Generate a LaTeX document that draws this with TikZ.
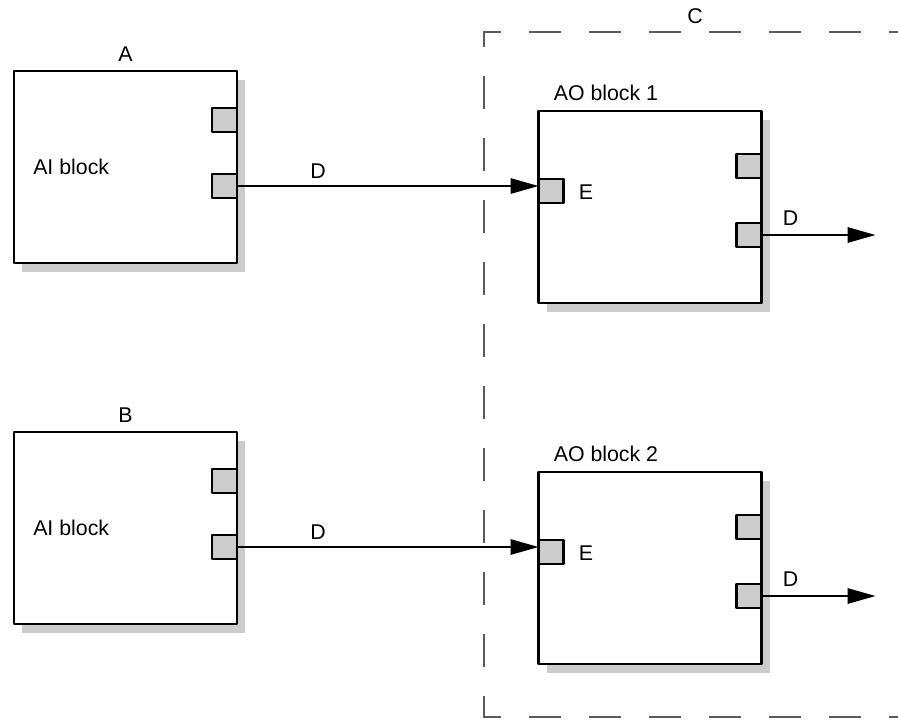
\documentclass[tikz,border=0pt]{standalone}
\usepackage{fontspec}
\setmainfont{Liberation Sans}
\usetikzlibrary{arrows.meta,calc,shadows}
\definecolor{portgray}{HTML}{CCCCCC}
\definecolor{shadegray}{HTML}{CCCCCC}
\definecolor{framegray}{HTML}{5A5A5A}
\tikzset{
  block/.style={draw, line width=1.8pt, fill=white, minimum width=167.25pt, minimum height=144pt,
    inner sep=0pt, outer sep=0pt, general shadow={fill=shadegray, shadow xshift=6pt, shadow yshift=-6.75pt}},
  port/.style={draw, line width=1.6pt, fill=portgray, minimum width=18.75pt, minimum height=18pt,
    inner sep=0pt, outer sep=0pt},
  lbl/.style={inner sep=0pt, font=\fontsize{16}{19}\selectfont},
  wire/.style={line width=1.5pt, -{Triangle[length=21pt, width=11.5pt]}},
  frame/.style={draw=framegray, line width=2.1pt, line cap=rect},
  hdash/.style={frame, dash pattern=on 22pt off 23pt, dash phase=10.5pt},
  vdash/.style={frame, dash pattern=on 22.8pt off 23.7pt, dash phase=12.75pt}
}
\begin{document}
\begin{tikzpicture}[x=0.75pt, y=-0.75pt, line join=round, line cap=round]
  \useasboundingbox (0,0) rectangle (898,719);
  % dashed frame C
  \coordinate (ctl) at (484,32);
  \coordinate (cbl) at (484,717);
  \draw[hdash] (ctl) -- (898,32);
  \draw[vdash] (ctl) -- (cbl);
  \draw[hdash] (cbl) -- (898,717);
  \node[lbl, anchor=base] (labC) at (695,23) {C};

  \foreach \ai/\ao/\dy/\k in {A/AO1/0/1, B/AO2/361/2}{
    % input block
    \node[block] (\ai) at (125.5,167+\dy) {};
    \node[port, anchor=north east] (\ai p1) at ($(\ai.north east)+(0,37)$) {};
    \node[port, anchor=north east] (\ai p2) at ($(\ai.north east)+(0,103)$) {};
    \node[lbl, anchor=base] (\ai lab) at ($(\ai.north)+(0,-10)$) {\ai};
    \node[lbl, anchor=base west] (\ai txt) at ($(\ai.north west)+(19,103)$) {AI block};
    % output block
    \node[block] (\ao) at (650,207+\dy) {};
    \node[port, anchor=north west] (\ao in) at ($(\ao.north west)+(0,68)$) {};
    \node[port, anchor=north east] (\ao p1) at ($(\ao.north east)+(0,43)$) {};
    \node[port, anchor=north east] (\ao p2) at ($(\ao.north east)+(0,112)$) {};
    \node[lbl, anchor=base west] (\ao lab) at ($(\ao.north west)+(15,-11)$) {AO block \k};
    \node[lbl, anchor=base west] (\ao E) at ($(\ao.north west)+(40,88)$) {E};
    \coordinate (\ao out) at ($(\ao p2.east)+(114,0)$);
    % connectors
    \draw[wire] (\ai p2.east) -- (\ai p2.east -| \ao in.west);
    \node[lbl, anchor=base] (\ai D) at ($(\ai p2.east)+(81,-8)$) {D};
    \draw[wire] (\ao p2.east) -- (\ao out);
    \node[lbl, anchor=base] (\ao D) at ($(\ao p2.east)+(29,-10)$) {D};
  }
\end{tikzpicture}
\end{document}
